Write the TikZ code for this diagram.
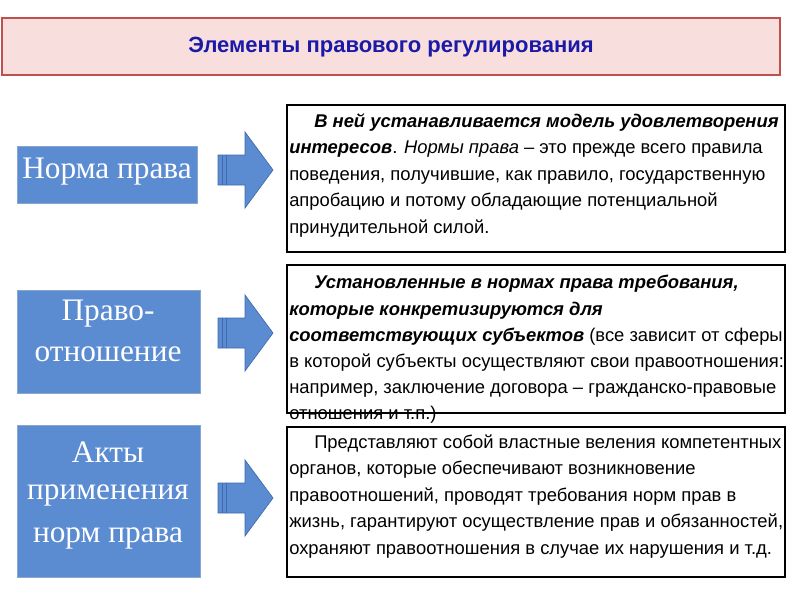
\documentclass[tikz,border=0pt]{standalone}
\usepackage{fontspec}
\setmainfont{Liberation Sans}
\newfontfamily\serifru{Liberation Serif}
\definecolor{pinkfill}{HTML}{F9DEDE}
\definecolor{pinkline}{HTML}{C0504D}
\definecolor{boxblue}{HTML}{5B8BD0}
\definecolor{boxline}{HTML}{3E6BAE}
\definecolor{titleblue}{HTML}{1A1AA8}
\tikzset{
  lbox/.style={draw=boxline!60, fill=boxblue, line width=0.6pt},
  ltext/.style={text=white, font=\serifru\fontsize{23.5}{26}\selectfont, inner sep=0},
  rbox/.style={draw=black, line width=1.5pt},
  rline/.style={anchor=base west, inner sep=0, font=\fontsize{13.8}{16}\selectfont},
  arr/.style={fill=boxblue, draw=boxline, line width=0.5pt}
}
\begin{document}
\begin{tikzpicture}[x=0.75pt,y=-0.75pt]
\useasboundingbox (0,0) rectangle (800,600);
\fill[white] (0,0) rectangle (800,600);
% title
\draw[fill=pinkfill, draw=pinkline, line width=0.8pt] (2,18) rectangle (780,75);
\node[text=titleblue, font=\bfseries\fontsize{16.5}{18}\selectfont] (title) at (391,47) {Элементы правового регулирования};
% left boxes
\draw[lbox] (17,146) rectangle (197,203);
\node[ltext] (l1) at (107,172) {Норма права};
\draw[lbox] (17,290) rectangle (200,393);
\node[ltext] (l2a) at (108,314) {Право-};
\node[ltext] (l2b) at (108,354) {отношение};
\draw[lbox] (17,425) rectangle (200,577);
\node[ltext] (l3a) at (108,452) {Акты};
\node[ltext] (l3b) at (108,495) {применения};
\node[ltext] (l3c) at (108,538) {норм права};
% arrows
\foreach \c/\n in {170/a1,333/a2,498/a3}{
  \draw[arr] (218,\c-15) -- (245,\c-15) -- (245,\c-38) -- (273,\c) -- (245,\c+38) -- (245,\c+15) -- (218,\c+15) -- cycle;
  \draw[boxline, line width=0.5pt] (222,\c-15) -- (222,\c+15) (226,\c-15) -- (226,\c+15);
  \coordinate (\n) at (273,\c);
}
% right boxes
\draw[rbox] (287,105) rectangle (785,252);
\draw[rbox] (287,265) rectangle (785,413);
\draw[rbox] (287,427) rectangle (785,577);
% text box 1
\node[rline] (t11) at (314,127) {\bfseries\itshape В ней устанавливается модель удовлетворения};
\node[rline] (t12) at (289,153) {\bfseries\itshape интересов\mdseries\upshape. \itshape Нормы права\upshape{} – это прежде всего правила};
\node[rline] (t13) at (289,180) {поведения, получившие, как правило, государственную};
\node[rline] (t14) at (289,206) {апробацию и потому обладающие потенциальной};
\node[rline] (t15) at (289,233) {принудительной силой.};
% text box 2
\node[rline] (t21) at (314,288) {\bfseries\itshape Установленные в нормах права требования,};
\node[rline] (t22) at (289,315) {\bfseries\itshape которые конкретизируются для};
\node[rline] (t23) at (289,341) {\bfseries\itshape соответствующих субъектов\mdseries\upshape{} (все зависит от сферы,};
\node[rline] (t24) at (289,367) {в которой субъекты осуществляют свои правоотношения:};
\node[rline] (t25) at (289,393) {например, заключение договора – гражданско-правовые};
\node[rline] (t26) at (289,419) {отношения и т.п.)};
% text box 3
\node[rline] (t31) at (314,448) {Представляют собой властные веления компетентных};
\node[rline] (t32) at (289,474) {органов, которые обеспечивают возникновение};
\node[rline] (t33) at (289,501) {правоотношений, проводят требования норм прав в};
\node[rline] (t34) at (289,527) {жизнь, гарантируют осуществление прав и обязанностей,};
\node[rline] (t35) at (289,554) {охраняют правоотношения в случае их нарушения и т.д.};
\end{tikzpicture}
\end{document}
